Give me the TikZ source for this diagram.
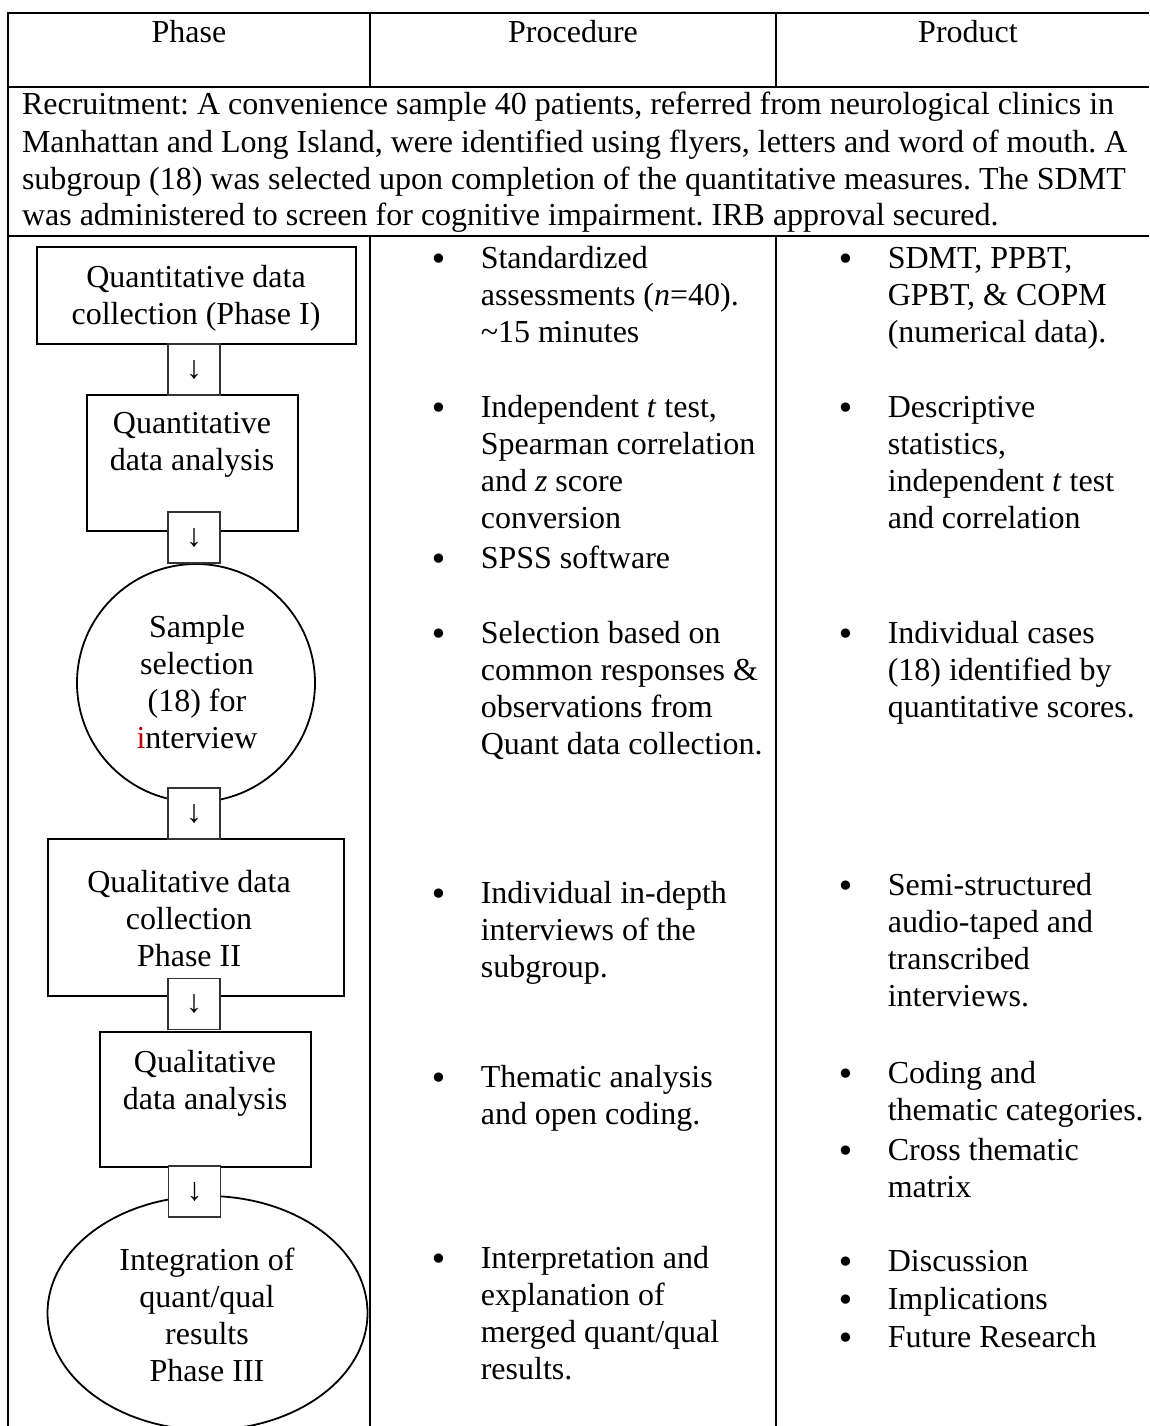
\documentclass[tikz,border=0pt]{standalone}
\usepackage{graphicx}
\usepackage{fontspec}
\setmainfont{Liberation Serif}
\newfontfamily\bulfont{DejaVu Sans}
\usetikzlibrary{shapes.geometric}
\definecolor{irred}{RGB}{192,0,0}
\frenchspacing
\newcommand\clines[1]{\begin{tabular}[t]{@{}c@{}}#1\end{tabular}}
\newcommand\llines[1]{\begin{tabular}[t]{@{}l@{}}#1\end{tabular}}
\newcommand\bigbul{\makebox[11.2pt][c]{\raisebox{-2pt}{\bulfont •}}}
\newcommand\bitem[1]{\begin{tabular}[t]{@{}p{47.4pt}@{}l@{}}\bigbul&#1\end{tabular}}
\begin{document}
\begin{tikzpicture}[x=1pt,y=-1pt,
  every node/.style={font=\fontsize{32}{37}\selectfont, inner sep=0pt, outer sep=0pt},
  rule/.style={line width=1.8pt},
  stage/.style={draw, line width=1.8pt},
  link/.style={draw=black!80, line width=1.3pt, fill=white, minimum width=52pt, minimum height=51pt},
  txt/.style={anchor=base},
  item/.style={anchor=base west}]
\useasboundingbox (0,0) rectangle (1149,1426);
% table rules
\draw[rule] (8,13) -- (1149,13);
\draw[rule] (8,87) -- (1149,87);
\draw[rule] (8,236) -- (1149,236);
\draw[rule] (8,12.1) -- (8,1426);
\draw[rule] (370,13) -- (370,87);
\draw[rule] (776,13) -- (776,87);
\draw[rule] (370,236) -- (370,1426);
\draw[rule] (776,236) -- (776,1426);
% header
\node[txt] (h1) at (189,43) {Phase};
\node[txt] (h2) at (573,43) {Procedure};
\node[txt] (h3) at (968,43) {Product};
% recruitment
\node[item] (rec) at (22,115) {\llines{Recruitment: A convenience sample 40 patients, referred from neurological clinics in\\
Manhattan and Long Island, were identified using flyers, letters and word of mouth. A\\
subgroup (18) was selected upon completion of the quantitative measures. The SDMT\\
was administered to screen for cognitive impairment. IRB approval secured.}};
% phase shapes
\node[stage, rectangle, minimum width=319pt, minimum height=97pt] (s1) at (196.5,295.5) {};
\node[stage, rectangle, minimum width=211pt, minimum height=136pt] (s2) at (192.5,463) {};
\node[stage, circle, minimum size=238pt] (s3) at (196,683) {};
\node[stage, rectangle, minimum width=296pt, minimum height=157pt] (s4) at (196,917.5) {};
\node[stage, rectangle, minimum width=211pt, minimum height=135pt] (s5) at (205.5,1099.5) {};
\node[stage, ellipse, minimum width=320pt, minimum height=234pt] (s6) at (207.5,1313) {};
% connectors
\node[link] (c1) at (194,369.5) {↓};
\node[link] (c2) at (194,537.5) {↓};
\node[link] (c3) at (194,813.5) {↓};
\node[link] (c4) at (194,1004) {↓};
\node[link] (c5) at (194.5,1191.5) {↓};
% phase texts
\node[txt] (t1) at (196,287) {\clines{Quantitative data\\collection (Phase I)}};
\node[txt] (t2) at (192,433) {\clines{Quantitative\\data analysis}};
\node[txt] (t3) at (197,637) {\clines{Sample\\selection\\(18) for\\\textcolor{irred}{i}nterview}};
\node[txt] (t4) at (189,892) {\clines{Qualitative data\\collection\\Phase II}};
\node[txt] (t5) at (205,1072) {\clines{Qualitative\\data analysis}};
\node[txt] (t6) at (207,1270) {\clines{Integration of\\quant/qual\\results\\Phase III}};
% procedure
\node[item] (p1) at (433.4,268) {\bitem{Standardized\\&assessments (\textit{n}=40).\\&\textasciitilde15 minutes}};
\node[item] (p2) at (433.4,417) {\bitem{Independent \textit{t} test,\\&Spearman correlation\\&and \textit{z} score\\&conversion\\[3pt]\bigbul&SPSS software}};
\node[item] (p4) at (433.4,643) {\bitem{Selection based on\\&common responses \&\\&observations from\\&Quant data collection.}};
\node[item] (p5) at (433.4,903) {\bitem{Individual in-depth\\&interviews of the\\&subgroup.}};
\node[item] (p6) at (433.4,1087) {\bitem{Thematic analysis\\&and open coding.}};
\node[item] (p7) at (433.4,1268) {\bitem{Interpretation and\\&explanation of\\&merged quant/qual\\&results.}};
% product
\node[item] (r1) at (840.4,268) {\bitem{SDMT, PPBT,\\&GPBT, \& COPM\\&(numerical data).}};
\node[item] (r2) at (840.4,417) {\bitem{Descriptive\\&statistics,\\&independent \textit{t} test\\&and correlation}};
\node[item] (r3) at (840.4,643) {\bitem{Individual cases\\&(18) identified by\\&quantitative scores.}};
\node[item] (r4) at (840.4,895) {\bitem{Semi-structured\\&audio-taped and\\&transcribed\\&interviews.}};
\node[item] (r5) at (840.4,1083) {\bitem{Coding and\\&thematic categories.\\[3pt]\bigbul&Cross thematic\\&matrix}};
\node[item] (r7) at (840.4,1271) {\bitem{Discussion\\[1pt]\bigbul&Implications\\[1pt]\bigbul&Future Research}};
\end{tikzpicture}
\end{document}
